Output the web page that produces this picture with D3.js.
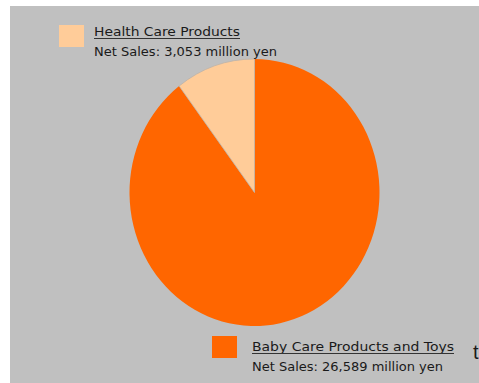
<!DOCTYPE html>
<html>
<head>
<meta charset="utf-8">
<script src="https://cdn.jsdelivr.net/npm/d3@7/dist/d3.min.js"></script>
<style>
  body { margin: 0; background: #fff; }
  text { font-family: "DejaVu Sans", sans-serif; font-size: 13px; fill: #1a1a1a; }
</style>
</head>
<body>
<div id="chart"></div>
<script>
// segments, drawn clockwise from 12 o'clock
var categories = ["Baby Care Products and Toys", "Health Care Products"];
var netSales = [26589, 3053];
var salesLabels = ["Net Sales: 26,589 million yen", "Net Sales: 3,053 million yen"];
var colors = ["#ff6600", "#ffcc99"];

var width = 479, height = 383;

var svg = d3.select("#chart").append("svg")
    .attr("width", width)
    .attr("height", height);

svg.append("rect")
    .attr("x", 10).attr("y", 6)
    .attr("width", width - 10).attr("height", height - 6)
    .attr("fill", "#c0c0c0");

// pie is a bit taller than wide, so draw a circle and squash it
var rx = 125, ry = 133.5, cx = 254.5, cy = 192.5;

var pie = d3.pie().sort(null).value(function (d) { return d; });
var arc = d3.arc().innerRadius(0).outerRadius(ry);

var g = svg.append("g")
    .attr("transform", "translate(" + cx + "," + cy + ") scale(" + (rx / ry) + ",1)");

g.selectAll("path")
    .data(pie(netSales))
    .enter().append("path")
    .attr("d", arc)
    .attr("fill", function (d, i) { return colors[i]; })
    .attr("stroke", function (d, i) { return i == 1 ? "#bdb3a8" : "none"; })
    .attr("stroke-width", 0.8);

// legend boxes, one per category
var legendPos = [
    { box: [212, 336], text: [252, 351], w1: 202, w2: 191 },
    { box: [59, 25], text: [94, 36], w1: 146, w2: 183 }
];

var legend = svg.selectAll("g.legend")
    .data(categories)
    .enter().append("g")
    .attr("class", "legend");

legend.append("rect")
    .attr("x", function (d, i) { return legendPos[i].box[0]; })
    .attr("y", function (d, i) { return legendPos[i].box[1]; })
    .attr("width", 25)
    .attr("height", 22)
    .attr("fill", function (d, i) { return colors[i]; });

legend.append("text")
    .attr("x", function (d, i) { return legendPos[i].text[0]; })
    .attr("y", function (d, i) { return legendPos[i].text[1]; })
    .attr("textLength", function (d, i) { return legendPos[i].w1; })
    .attr("lengthAdjust", "spacingAndGlyphs")
    .text(function (d) { return d; });

legend.append("line")
    .attr("x1", function (d, i) { return legendPos[i].text[0]; })
    .attr("x2", function (d, i) { return legendPos[i].text[0] + legendPos[i].w1; })
    .attr("y1", function (d, i) { return legendPos[i].text[1] + 2.5; })
    .attr("y2", function (d, i) { return legendPos[i].text[1] + 2.5; })
    .attr("stroke", "#333")
    .attr("stroke-width", 1);

legend.append("text")
    .attr("x", function (d, i) { return legendPos[i].text[0]; })
    .attr("y", function (d, i) { return legendPos[i].text[1] + 19.5; })
    .attr("textLength", function (d, i) { return legendPos[i].w2; })
    .attr("lengthAdjust", "spacingAndGlyphs")
    .text(function (d, i) { return salesLabels[i]; });

// stray cut-off character at the right edge
svg.append("text")
    .attr("x", 473)
    .attr("y", 359)
    .style("font-family", "Liberation Sans, Arial, sans-serif")
    .style("font-size", "20px")
    .text("t");
</script>
</body>
</html>
